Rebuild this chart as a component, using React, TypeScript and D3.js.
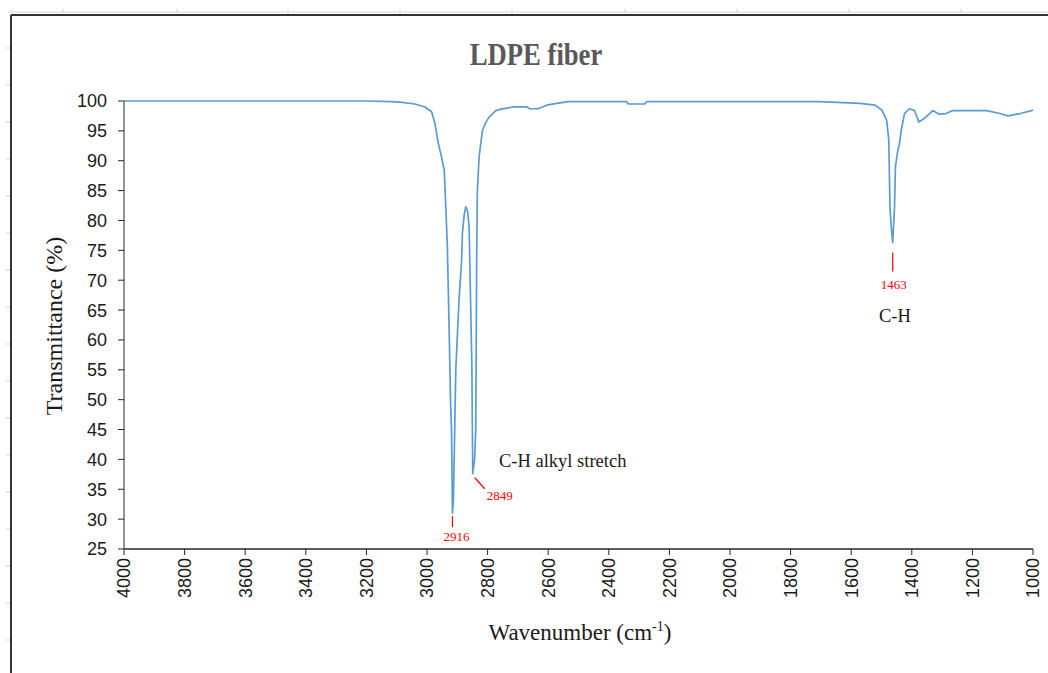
import React from "react";
import * as d3 from "d3";

const wavenumbers: number[] = [
  4000, 3800, 3600, 3400, 3200, 3120, 3089, 3040, 3007, 2985, 2974, 2963, 2952, 2943, 2938, 2933, 2927, 2922, 2919, 2916,
  2913, 2911, 2905, 2894, 2886, 2883, 2877, 2872, 2866, 2861, 2858, 2852, 2849, 2843, 2839, 2836, 2834, 2828, 2817, 2805,
  2795, 2773, 2759, 2737, 2716, 2671, 2660, 2634, 2605, 2572, 2534, 2341, 2336, 2281, 2275, 1703, 1571, 1521, 1499, 1483,
  1476, 1472, 1468, 1463, 1457, 1454, 1447, 1441, 1435, 1424, 1408, 1391, 1377, 1358, 1331, 1309, 1287, 1265, 1153, 1109,
  1083, 1043, 1004, 1000,
];
const transmittance: number[] = [
  100, 100, 100, 100, 100, 99.9, 99.8, 99.5, 99.0, 98.2, 96.3, 93.0, 90.6, 88.4, 82.3, 76, 62, 49, 45, 31,
  33, 38, 55, 67, 73, 78, 81, 82.3, 81.5, 79, 71, 56, 37.6, 40, 45, 74, 84.6, 90.7, 95.1, 96.5,
  97.3, 98.4, 98.6, 98.8, 99.0, 99.0, 98.7, 98.7, 99.3, 99.6, 99.9, 99.9, 99.5, 99.5, 99.9, 99.9, 99.6, 99.3, 98.5, 96.8,
  93.5, 82.3, 79, 76.3, 82.3, 89, 91.5, 92.8, 95.1, 97.9, 98.7, 98.4, 96.5, 97.1, 98.4, 97.8, 97.9, 98.4, 98.4, 97.9,
  97.5, 97.9, 98.4, 98.5,
];
const yTicks: number[] = [25, 30, 35, 40, 45, 50, 55, 60, 65, 70, 75, 80, 85, 90, 95, 100];
const xTicks: number[] = [4000, 3800, 3600, 3400, 3200, 3000, 2800, 2600, 2400, 2200, 2000, 1800, 1600, 1400, 1200, 1000];
const peakLabels: string[] = ["2916", "2849", "1463"];
const peakWavenumbers: number[] = [2916, 2849, 1463];
const peakValues: number[] = [31, 37.6, 76.3];

const W = 1048;
const H = 673;

export default function App() {
  const x = d3.scaleLinear().domain([4000, 1000]).range([124, 1033]);
  const y = d3.scaleLinear().domain([25, 100]).range([549, 101]);
  const pts = wavenumbers.map((w, i) => [w, transmittance[i]] as [number, number]);
  const line = d3
    .line<[number, number]>()
    .x((d) => x(d[0]))
    .y((d) => y(d[1]));

  const sans = "'Liberation Sans', Arial, sans-serif";
  const serif = "'Liberation Serif', 'Times New Roman', serif";
  const axisColor = "#262626";

  const topMarks = [63, 177, 288, 400, 512, 625, 737, 849, 961];
  const leftMarks = d3.range(48, 673, 37);

  return (
    <svg width={W} height={H} style={{ position: "absolute", left: 0, top: 0, background: "#fff" }}>
      {/* spreadsheet background artifacts */}
      <line x1={8} x2={W} y1={12} y2={12} stroke="#d9d9d9" strokeWidth={1} />
      {topMarks.map((m) => (
        <line key={"tm" + m} x1={m} x2={m} y1={9} y2={13} stroke="#d0d0d0" strokeWidth={1} />
      ))}
      {leftMarks.map((m) => (
        <line key={"lm" + m} x1={6} x2={10} y1={m} y2={m} stroke="#cfcfcf" strokeWidth={1} />
      ))}
      {/* frame */}
      <line x1={11} x2={W} y1={15} y2={15} stroke="#333" strokeWidth={2} />
      <line x1={11} x2={11} y1={15} y2={H} stroke="#333" strokeWidth={2} />

      {/* title */}
      <text
        transform="translate(536,65) scale(0.97,1.12)"
        textAnchor="middle"
        fontFamily={serif}
        fontWeight="bold"
        fontSize={27.5}
        fill="#595959"
      >
        LDPE fiber
      </text>

      {/* y axis */}
      <line x1={124} x2={124} y1={y(100)} y2={y(25)} stroke={axisColor} strokeWidth={1} />
      {yTicks.map((t) => (
        <g key={"y" + t}>
          <line x1={118} x2={124} y1={y(t)} y2={y(t)} stroke={axisColor} strokeWidth={1} />
          <text x={107} y={y(t)} dy="0.36em" textAnchor="end" fontFamily={sans} fontSize={18} fill="#1a1a1a">
            {t}
          </text>
        </g>
      ))}

      {/* x axis */}
      <line x1={x(4000)} x2={x(1000)} y1={549} y2={549} stroke={axisColor} strokeWidth={1.3} />
      {xTicks.map((t) => (
        <g key={"x" + t}>
          <line x1={x(t)} x2={x(t)} y1={549} y2={555} stroke={axisColor} strokeWidth={1} />
          <text
            transform={`translate(${x(t)},558) rotate(-90)`}
            dy="0.36em"
            textAnchor="end"
            fontFamily={sans}
            fontSize={18}
            fill="#1a1a1a"
          >
            {t}
          </text>
        </g>
      ))}

      {/* axis titles */}
      <text transform="translate(62,326) rotate(-90)" textAnchor="middle" fontFamily={serif} fontSize={24} fill="#1a1a1a">
        Transmittance (%)
      </text>
      <text x={580} y={640} textAnchor="middle" fontFamily={serif} fontSize={23} fill="#1a1a1a">
        Wavenumber (cm
        <tspan fontSize={14} dy={-9}>-1</tspan>
        <tspan dy={9}>)</tspan>
      </text>

      {/* spectrum */}
      <path d={line(pts) || ""} fill="none" stroke="#5B9BD5" strokeWidth={1.7} strokeLinejoin="round" />

      {/* peak annotations */}
      <line x1={x(peakWavenumbers[0])} x2={x(peakWavenumbers[0])} y1={y(peakValues[0]) + 3} y2={y(peakValues[0]) + 14} stroke="red" strokeWidth={1.2} />
      <text x={x(peakWavenumbers[0]) + 4} y={541} textAnchor="middle" fontFamily={serif} fontSize={13} fill="red">
        {peakLabels[0]}
      </text>
      <line x1={x(peakWavenumbers[1]) + 2} x2={x(peakWavenumbers[1]) + 12} y1={y(peakValues[1]) + 4} y2={y(peakValues[1]) + 15} stroke="red" strokeWidth={1.2} />
      <text x={x(peakWavenumbers[1]) + 14} y={500} textAnchor="start" fontFamily={serif} fontSize={13} fill="red">
        {peakLabels[1]}
      </text>
      <line x1={x(peakWavenumbers[2])} x2={x(peakWavenumbers[2])} y1={y(peakValues[2]) + 10} y2={y(peakValues[2]) + 29} stroke="red" strokeWidth={1.2} />
      <text x={x(peakWavenumbers[2]) + 1} y={289} textAnchor="middle" fontFamily={serif} fontSize={13} fill="red">
        {peakLabels[2]}
      </text>

      <text x={499} y={467} fontFamily={serif} fontSize={18.5} fill="#1a1a1a">
        C-H alkyl stretch
      </text>
      <text x={879} y={322} fontFamily={serif} fontSize={18.5} fill="#1a1a1a">
        C-H
      </text>
    </svg>
  );
}
